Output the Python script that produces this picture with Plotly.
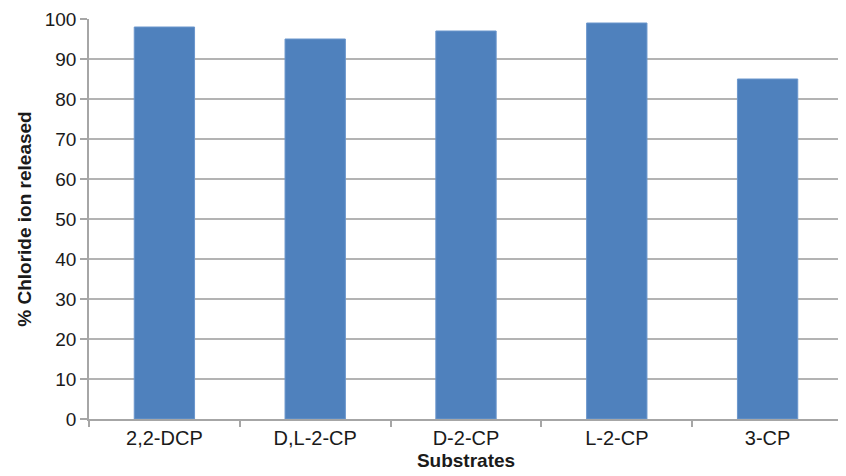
import plotly.graph_objects as go

categories = ["2,2-DCP", "D,L-2-CP", "D-2-CP", "L-2-CP", "3-CP"]
values = [98, 95, 97, 99, 85]
y_ticks = list(range(0, 101, 10))

fig = go.Figure(go.Bar(
    x=categories, y=values, width=0.4,
    marker=dict(color="#4F81BD", line=dict(color="#6B96CC", width=1)),
))
font = "Liberation Sans, Arial, sans-serif"
# page body has an 8px margin, so the figure is drawn at (8, 8)
fig.update_layout(
    width=838, height=468,
    margin=dict(l=81, r=3, t=11, b=57),
    paper_bgcolor="white", plot_bgcolor="white",
    font=dict(family=font, size=20, color="#1a1a1a"),
    showlegend=False,
)
fig.update_xaxes(
    automargin=False,
    showline=True, linecolor="#A6A6A6", linewidth=1.5,
    ticks="outside", tickson="boundaries", ticklen=6, tickcolor="#A6A6A6", tickwidth=1.5,
    title=dict(text="<b>Substrates</b>", font=dict(size=19), standoff=6),
    tickfont=dict(size=20),
)
fig.update_yaxes(
    automargin=False,
    range=[0, 100], tickvals=y_ticks,
    showline=True, linecolor="#A6A6A6", linewidth=1.5,
    ticks="outside", ticklen=7, tickcolor="#A6A6A6", tickwidth=1.5,
    showgrid=True, gridcolor="#B3B3B3", gridwidth=1.5,
    zeroline=False,
    title=dict(text="<b>% Chloride ion released</b>", font=dict(size=19), standoff=8),
    tickfont=dict(size=19),
)
fig.write_html("out.html")
